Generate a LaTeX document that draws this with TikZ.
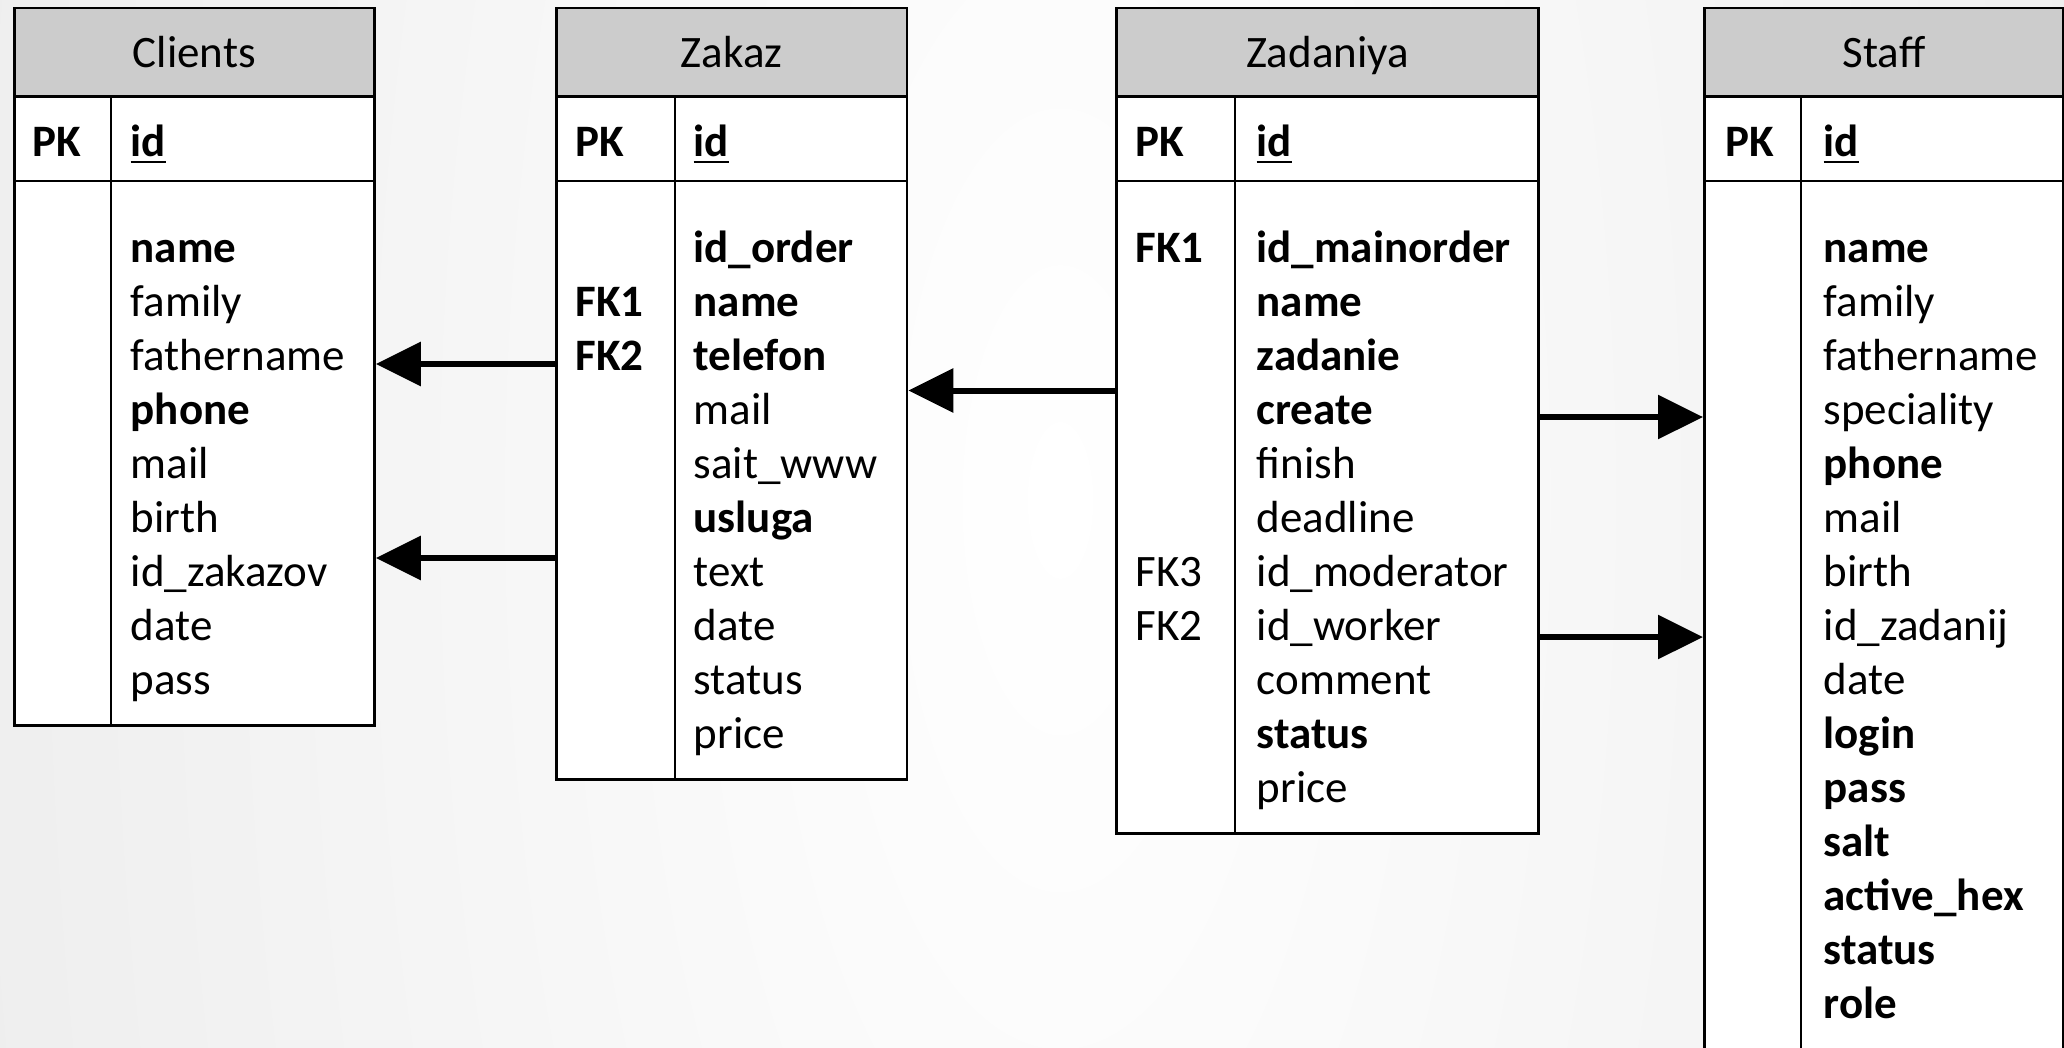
\documentclass[tikz,border=0pt]{standalone}
\usepackage{fontspec}
\setmainfont{Carlito}
\usepackage{tikz}
\usepackage{xcolor}
\usetikzlibrary{arrows.meta}
\definecolor{headgray}{HTML}{CCCCCC}
\tikzset{
    table-box/.style = {draw, fill=white, line width=0.028cm, rectangle, anchor=north west, inner sep=0pt},
    table-head/.style = {draw, fill=headgray, line width=0.028cm, rectangle, anchor=north west, inner sep=0pt, minimum height=0.885cm, text height=0.3cm, text depth=0pt},
    table-line/.style = {line width=0.028cm},
    field-list/.style = {anchor=base west, inner sep=0pt, text width=4cm, align=left},
    fk-arrow/.style = {line width=0.06cm, -{Triangle[length=0.45cm, width=0.43cm]}},
}

\begin{document}
\begin{tikzpicture}[font=\fontsize{12.8}{15.38}\selectfont]
\useasboundingbox (0,0) rectangle (20.64,-10.47);
\begin{scope}
\clip (0,0) rectangle (20.64,-10.47);
\shade[inner color=white, outer color=black!9] (10.6,-5) ellipse (15 and 36);
\end{scope}

% Clients
\node[table-box, minimum width=3.60cm, minimum height=7.175cm] (clients) at (0.13,-0.065) {};
\node[table-head, minimum width=3.60cm] (clients-head) at (clients.north west) {Clients};
\draw[table-line] (clients.west |- 0,-1.81) -- (clients.east |- 0,-1.81);
\draw[table-line] (1.11,-0.95) -- (clients.south -| 1.11,0);
\node[field-list] (clients-pk) at (0.32,-1.567) {\textbf{PK}};
\node[field-list] (clients-id) at (1.30,-1.567) {\textbf{\underline{id}}};
\node[field-list] (clients-fields) at (1.30,-2.62) {\textbf{name}\\family\\fathername\\\textbf{phone}\\mail\\birth\\id\_zakazov\\date\\pass};

% Zakaz
\node[table-box, minimum width=3.505cm, minimum height=7.715cm] (zakaz) at (5.55,-0.065) {};
\node[table-head, minimum width=3.505cm] (zakaz-head) at (zakaz.north west) {Zakaz};
\draw[table-line] (zakaz.west |- 0,-1.81) -- (zakaz.east |- 0,-1.81);
\draw[table-line] (6.75,-0.95) -- (zakaz.south -| 6.75,0);
\node[field-list] (zakaz-pk) at (5.75,-1.567) {\textbf{PK}};
\node[field-list] (zakaz-id) at (6.93,-1.567) {\textbf{\underline{id}}};
\node[field-list] (zakaz-keys) at (5.75,-2.62) {\mbox{}\\\textbf{FK1}\\\textbf{FK2}};
\node[field-list] (zakaz-fields) at (6.93,-2.62) {\textbf{id\_order}\\\textbf{name}\\\textbf{telefon}\\mail\\sait\_www\\\textbf{usluga}\\text\\date\\status\\price};

% Zadaniya
\node[table-box, minimum width=4.22cm, minimum height=8.255cm] (zadaniya) at (11.15,-0.065) {};
\node[table-head, minimum width=4.22cm] (zadaniya-head) at (zadaniya.north west) {Zadaniya};
\draw[table-line] (zadaniya.west |- 0,-1.81) -- (zadaniya.east |- 0,-1.81);
\draw[table-line] (12.35,-0.95) -- (zadaniya.south -| 12.35,0);
\node[field-list] (zadaniya-pk) at (11.35,-1.567) {\textbf{PK}};
\node[field-list] (zadaniya-id) at (12.56,-1.567) {\textbf{\underline{id}}};
\node[field-list] (zadaniya-keys) at (11.35,-2.62) {\textbf{FK1}\\\mbox{}\\\mbox{}\\\mbox{}\\\mbox{}\\\mbox{}\\FK3\\FK2};
\node[field-list] (zadaniya-fields) at (12.56,-2.62) {\textbf{id\_mainorder}\\\textbf{name}\\\textbf{zadanie}\\\textbf{create}\\finish\\deadline\\id\_moderator\\id\_worker\\comment\\\textbf{status}\\price};

% Staff
\node[table-box, minimum width=3.59cm, minimum height=11cm] (staff) at (17.03,-0.065) {};
\node[table-head, minimum width=3.59cm] (staff-head) at (staff.north west) {Staff};
\draw[table-line] (staff.west |- 0,-1.81) -- (staff.east |- 0,-1.81);
\draw[table-line] (18.01,-0.95) -- (staff.south -| 18.01,0);
\node[field-list] (staff-pk) at (17.25,-1.567) {\textbf{PK}};
\node[field-list] (staff-id) at (18.23,-1.567) {\textbf{\underline{id}}};
\node[field-list] (staff-fields) at (18.23,-2.62) {\textbf{name}\\family\\fathername\\speciality\\\textbf{phone}\\mail\\birth\\id\_zadanij\\date\\\textbf{login}\\\textbf{pass}\\\textbf{salt}\\\textbf{active\_hex}\\\textbf{status}\\\textbf{role}};

% links
\draw[fk-arrow] (zakaz.west |- 0,-3.64) -- (clients.east |- 0,-3.64);
\draw[fk-arrow] (zakaz.west |- 0,-5.58) -- (clients.east |- 0,-5.58);
\draw[fk-arrow] (zadaniya.west |- 0,-3.905) -- (zakaz.east |- 0,-3.905);
\draw[fk-arrow] (zadaniya.east |- 0,-4.17) -- (staff.west |- 0,-4.17);
\draw[fk-arrow] (zadaniya.east |- 0,-6.37) -- (staff.west |- 0,-6.37);
\end{tikzpicture}
\end{document}
